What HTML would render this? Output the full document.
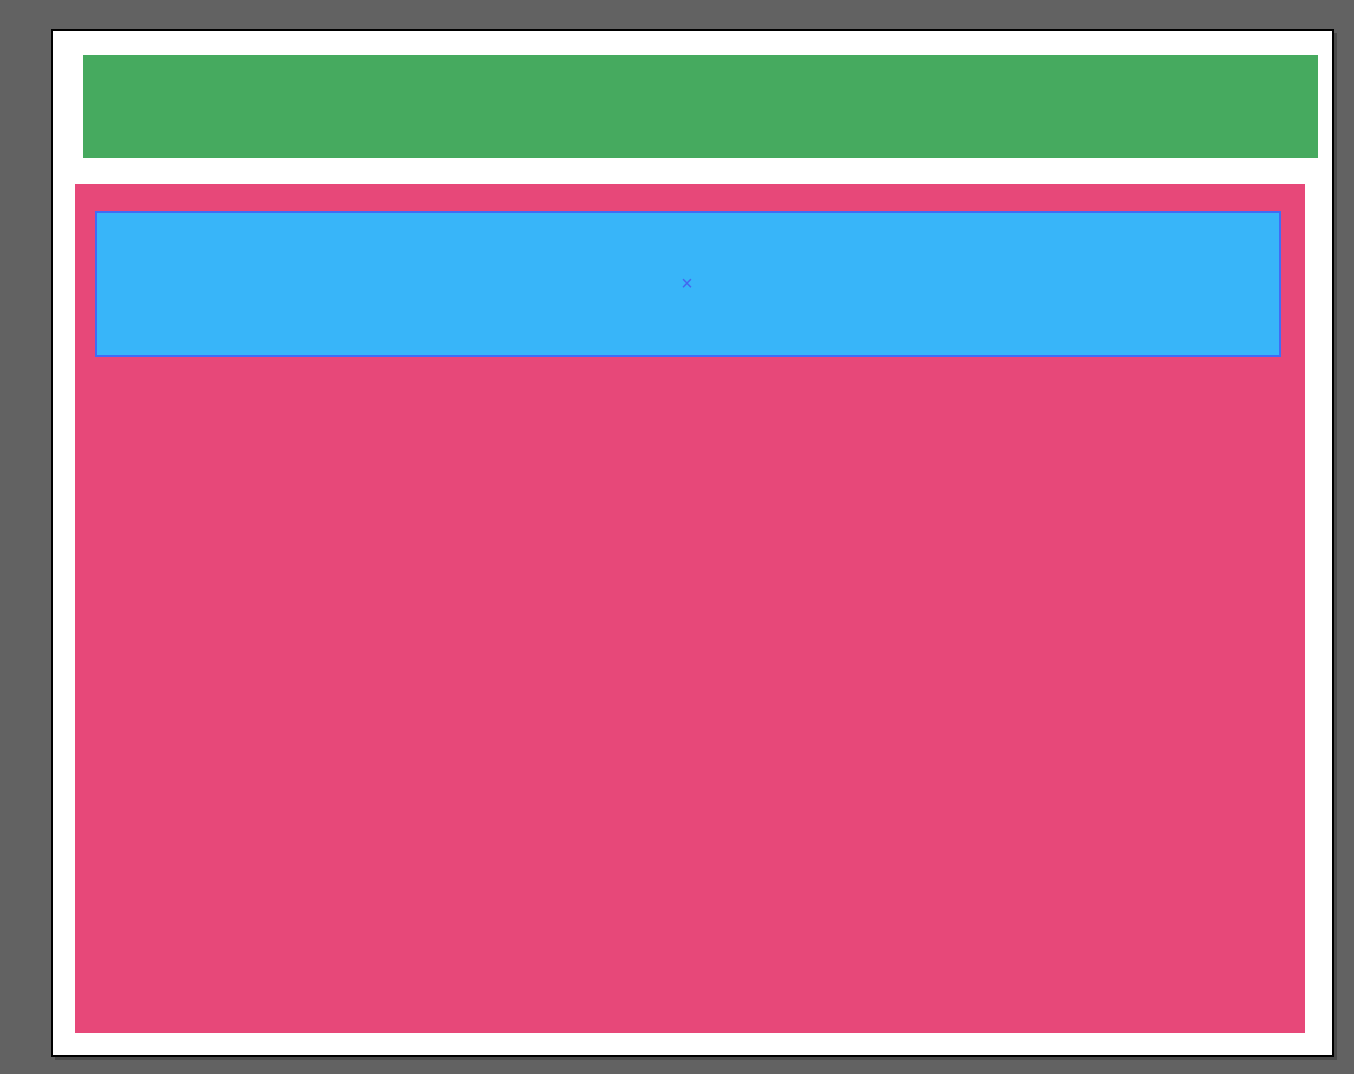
<!DOCTYPE html>
<html><head><meta charset="utf-8"><style>
html,body{margin:0;padding:0;}
body{width:1354px;height:1074px;background:#626262;position:relative;overflow:hidden;font-family:"Liberation Sans",sans-serif;}
div{position:absolute;box-sizing:border-box;}
</style></head><body>
<div style="left:55px;top:33px;width:1282px;height:1027px;background:#4a4a4a;"></div>
<div style="left:51px;top:29px;width:1283px;height:1028px;background:#fff;border:2px solid #000;"></div>
<div style="left:83px;top:55px;width:1235px;height:103px;background:#46aa5f;"></div>
<div style="left:75px;top:184px;width:1230px;height:849px;background:#e74879;"></div>
<div style="left:95px;top:211px;width:1186px;height:146px;background:#38b5f9;border:2px solid #3f6cf7;"></div>
<div style="left:677px;top:273px;width:20px;height:22px;color:#4466ee;font-size:20px;line-height:22px;text-align:center;">×</div>
</body></html>
